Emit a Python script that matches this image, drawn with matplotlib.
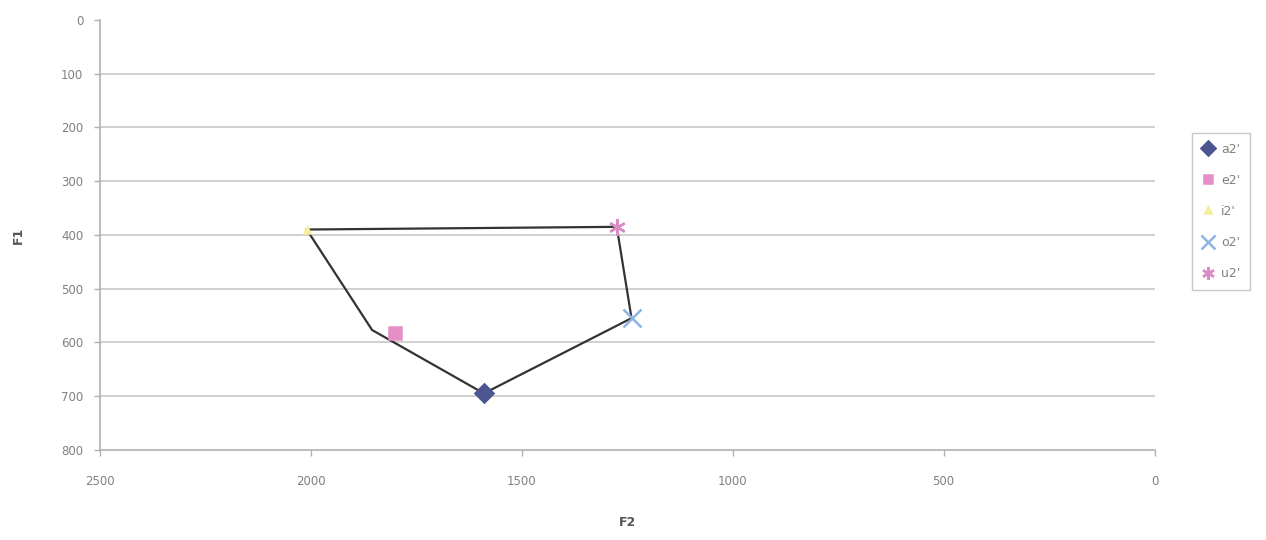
import numpy as np
import matplotlib
matplotlib.use("Agg")
import matplotlib.pyplot as plt

# vowel formants (F2, F1)
labels = ["a2'", "e2'", "i2'", "o2'", "u2'"]
f2 = [1590, 1800, 2010, 1240, 1275]
f1 = [695, 583, 390, 555, 385]
colors = ["#4b5590", "#e58fc8", "#f5ee9a", "#8fb3e3", "#d98cc4"]
markers = ["D", "s", "^", "x", (6, 2, 0)]
sizes = [9, 8, 5, 13, 12]

# outline drawn round the vowel space
line_f2 = [2010, 1855, 1590, 1240, 1275, 2010]
line_f1 = [390, 577, 695, 555, 385, 390]

fig = plt.figure(figsize=(12.66, 5.4), dpi=100)
ax = fig.add_axes([0.079, 0.167, 0.833, 0.796])

ax.plot(line_f2, line_f1, color="#333333", lw=1.6, zorder=3)
for lab, x, y, c, m, s in zip(labels, f2, f1, colors, markers, sizes):
    ax.plot(x, y, marker=m, color=c, markersize=s, mew=1.8,
            linestyle="none", label=lab, zorder=4)

ax.set_xlim(2500, 0)
ax.set_ylim(800, 0)
ax.set_xticks(np.arange(2500, -1, -500))
ax.set_yticks(np.arange(0, 801, 100))
for yv in range(100, 800, 100):
    ax.axhline(yv, color="#c4c4c4", lw=1.1, zorder=1)
for s in ["top", "right"]:
    ax.spines[s].set_visible(False)
for s in ["left", "bottom"]:
    ax.spines[s].set_color("#b0b0b0")
    ax.spines[s].set_linewidth(1.2)
ax.tick_params(colors="#b0b0b0", labelcolor="#808080", labelsize=8.5,
               length=4, width=1)
ax.tick_params(axis="x", pad=14)
ax.tick_params(axis="y", pad=8)

ax.set_xlabel("F2", fontsize=9, color="#555555", fontweight="bold", labelpad=20)
ax.set_ylabel("F1", fontsize=9, color="#555555", fontweight="bold", labelpad=26)

leg = ax.legend(loc="center left", bbox_to_anchor=(1.03, 0.555), fontsize=9,
                frameon=True, fancybox=False, handlelength=0.9,
                handletextpad=0.6, labelspacing=1.45, borderpad=0.8,
                markerscale=0.75)
leg.get_frame().set_edgecolor("#bbbbbb")
for t in leg.get_texts():
    t.set_color("#808080")

fig.savefig("out.png", dpi=100)
